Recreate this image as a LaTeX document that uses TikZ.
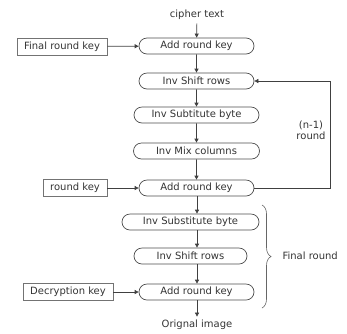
\documentclass[tikz,border=0pt]{standalone}
\usepackage{fontspec}
\setmainfont{DejaVu Sans}
\usepackage{tikz}
\usetikzlibrary{arrows.meta,positioning,shapes.misc,decorations.pathreplacing}

\begin{document}
\begin{tikzpicture}[x=1pt, y=-1pt,
  stage/.style={draw=black!70, line width=0.7pt, rounded rectangle, minimum height=16pt, inner sep=1pt, font=\fontsize{10}{11}\selectfont, text=black!80},
  keybox/.style={draw=black!55, line width=0.7pt, rectangle, minimum height=17pt, inner sep=1pt, font=\fontsize{10}{11}\selectfont, text=black!80},
  label/.style={font=\fontsize{10}{11}\selectfont, text=black!80},
  flow/.style={draw=black!75, line width=0.7pt, -{Triangle[length=4pt,width=4pt]}}]
\useasboundingbox (0,0) rectangle (347,333);

% Main decryption chain
\node[label] (ct) at (197,15) {cipher text};
\node[stage, minimum width=117pt] (ark1) at (196.5,46) {Add round key};
\node[stage, minimum width=117pt] (isr1) at (196.5,81) {Inv Shift rows};
\node[stage, minimum width=127pt] (isb1) at (196.5,115) {Inv Subtitute byte};
\node[stage, minimum width=128pt] (imc) at (196.5,151) {Inv Mix columns};
\node[stage, minimum width=117pt] (ark2) at (196.5,188) {Add round key};
\node[stage, minimum width=139pt] (isb2) at (190.5,222) {Inv Substitute byte};
\node[stage, minimum width=115pt] (isr2) at (190.5,256) {Inv Shift rows};
\node[stage, minimum width=117pt] (ark3) at (196.5,292) {Add round key};
\node[label] (out) at (197,325) {Orignal image};

% Key inputs
\node[keybox, minimum width=90pt] (frk) at (62,46.5) {Final round key};
\node[keybox, minimum width=64pt] (rk) at (75,188) {round key};
\node[keybox, minimum width=90pt] (dk) at (68,292) {Decryption key};

% Vertical flow
\draw[flow] (ct) -- (ark1);
\draw[flow] (ark1) -- (isr1);
\draw[flow] (isr1) -- (isb1);
\draw[flow] (isb1) -- (imc);
\draw[flow] (imc) -- (ark2);
\draw[flow] (ark2.south -| ct) -- (isb2.north -| ct);
\draw[flow] (isb2.south -| ct) -- (isr2.north -| ct);
\draw[flow] (isr2.south -| ct) -- (ark3.north -| ct);
\draw[flow] (ark3.south -| ct) -- (out);

% Keys into the rounds
\draw[flow] (frk) -- (ark1);
\draw[flow] (rk) -- (ark2);
\draw[flow] (dk) -- (ark3);

% Loop back for the middle rounds
\coordinate (loop) at (330,188);
\draw[flow] (ark2.east) -- (loop) |- (isr1.east);
\node[label, align=center, inner sep=0pt] (nr) at (311,130) {(n-1)\\round};

% Final round brace
\draw[draw=black!60, line width=0.6pt, decorate, decoration={brace, amplitude=9pt}] (262,205) -- (262,308);
\node[label, anchor=west] (fr) at (279,256) {Final round};
\end{tikzpicture}
\end{document}
